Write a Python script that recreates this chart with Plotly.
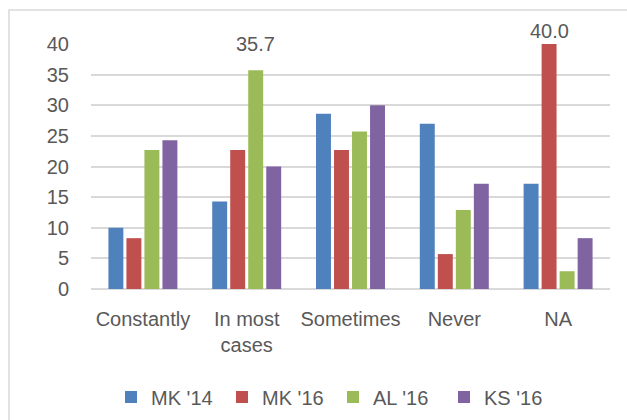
import plotly.graph_objects as go

# Survey answers by group (percent)
categories = ["Constantly", "In most<br>cases", "Sometimes", "Never", "NA"]
series_names = ["MK '14", "MK '16", "AL '16", "KS '16"]
mk14 = [10.0, 14.3, 28.6, 27.0, 17.2]
mk16 = [8.3, 22.7, 22.7, 5.7, 40.0]
al16 = [22.7, 35.7, 25.7, 12.9, 2.9]
ks16 = [24.3, 20.0, 30.0, 17.2, 8.3]
series_colors = ["#4f81bd", "#c0504d", "#9bbb59", "#8064a2"]

# Values that carry a printed label: (series index, category index)
labelled = [(2, 1), (1, 4)]

W, H = 627, 420
L, R, T, B = 91, 17, 44, 131
plot_w = W - L - R
plot_h = H - T - B

text_col = "#595959"
grid_col = "#d9d9d9"
font_family = "Liberation Sans, Arial, sans-serif"

fig = go.Figure()
all_series = [mk14, mk16, al16, ks16]
for name, vals, col in zip(series_names, all_series, series_colors):
    fig.add_trace(go.Bar(
        name=name, x=categories, y=vals, marker=dict(color=col, line=dict(width=0)),
    ))

# Data labels centred above their bars
bargap = 0.306
n_series = len(all_series)
slot_px = plot_w / len(categories)
sub_px = slot_px * (1 - bargap) / n_series
label_shift = {(2, 1): 13, (1, 4): 0}
for si, ci in labelled:
    v = all_series[si][ci]
    fig.add_annotation(
        x=categories[ci], y=v, xref="x", yref="y",
        text=f"{v:.1f}", showarrow=False,
        xshift=(si - (n_series - 1) / 2) * sub_px,
        yanchor="bottom", yshift=label_shift[(si, ci)],
        font=dict(size=20, color=text_col, family=font_family),
    )

# Chart-area border (extends past the right and bottom edges)
def px_x(p):
    return (p - L) / plot_w

def px_y(p):
    return (H - B - p) / plot_h

fig.add_shape(
    type="rect", xref="paper", yref="paper",
    x0=px_x(9), x1=px_x(W + 20), y0=px_y(10), y1=px_y(H + 20),
    line=dict(color=grid_col, width=1.5), fillcolor="rgba(0,0,0,0)", layer="below",
)

fig.update_layout(
    width=W, height=H,
    margin=dict(l=L, r=R, t=T, b=B, pad=0, autoexpand=False),
    paper_bgcolor="white", plot_bgcolor="white",
    barmode="group", bargap=bargap, bargroupgap=0.17,
    font=dict(family=font_family, size=20, color=text_col),
    showlegend=True,
    legend=dict(
        orientation="h", x=px_x(333), xanchor="center",
        y=px_y(397), yanchor="middle",
        font=dict(size=20, color=text_col, family=font_family),
        itemwidth=30, entrywidth=66, entrywidthmode="pixels",
        traceorder="normal", bgcolor="rgba(0,0,0,0)",
    ),
    xaxis=dict(
        showgrid=False, showline=False, ticks="", zeroline=False,
        ticklabelstandoff=16,
        tickfont=dict(size=20, color=text_col),
    ),
    yaxis=dict(
        range=[0, 40], tickvals=[0, 5, 10, 15, 20, 25, 30, 35, 40],
        showgrid=True, gridcolor=grid_col, gridwidth=2,
        zeroline=True, zerolinecolor=grid_col, zerolinewidth=2,
        showline=False, ticks="", ticklabelstandoff=21,
        tickfont=dict(size=20, color=text_col),
    ),
)

fig.write_html("out.html")
